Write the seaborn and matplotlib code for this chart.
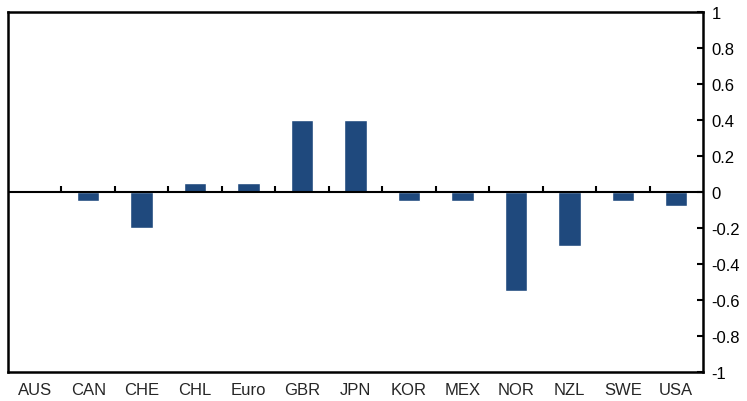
import numpy as np
import pandas as pd
import seaborn as sns
import matplotlib
matplotlib.use("Agg")
import matplotlib.pyplot as plt
import matplotlib.ticker as ticker

# Dados
paises = ["AUS", "CAN", "CHE", "CHL", "Euro", "GBR", "JPN",
          "KOR", "MEX", "NOR", "NZL", "SWE", "USA"]
valores = [0.0, -0.05, -0.2, 0.05, 0.05, 0.4, 0.4,
           -0.05, -0.05, -0.55, -0.3, -0.05, -0.08]

df = pd.DataFrame({"pais": paises, "valor": valores})

sns.set_style("white")
plt.rcParams["font.family"] = ["Liberation Sans", "DejaVu Sans"]

fig = plt.figure(figsize=(7.47, 4.02), dpi=100)
ax = fig.add_axes([8 / 747, 1 - 373 / 402, 695 / 747, 360 / 402])

sns.barplot(x="pais", y="valor", data=df, color="#1f497d",
            saturation=1, width=0.42, ax=ax)

# Linha do zero e marcas entre categorias
ax.axhline(0, color="black", lw=1.5, zorder=3)
limites = np.arange(len(paises) - 1) + 0.5
ax.plot(limites, np.zeros(len(limites)), ls="none", marker=2,
        markersize=4, mew=1.5, color="black", zorder=4)

ax.set_xlim(-0.5, len(paises) - 0.5)
ax.set_ylim(-1, 1)
ax.yaxis.set_major_locator(ticker.MultipleLocator(0.2))
ax.yaxis.set_major_formatter(
    ticker.FuncFormatter(lambda v, p: "0" if abs(v) < 1e-9 else f"{v:g}"))
ax.yaxis.tick_right()
ax.tick_params(axis="y", direction="in", length=4, width=1.5,
               pad=6, labelsize=12, colors="black")
ax.tick_params(axis="x", length=0, pad=7, labelsize=12)
ax.set_xlabel("")
ax.set_ylabel("")

for s in ax.spines.values():
    s.set_visible(True)
    s.set_color("black")
    s.set_linewidth(1.8)

fig.savefig("out.png", dpi=100)
